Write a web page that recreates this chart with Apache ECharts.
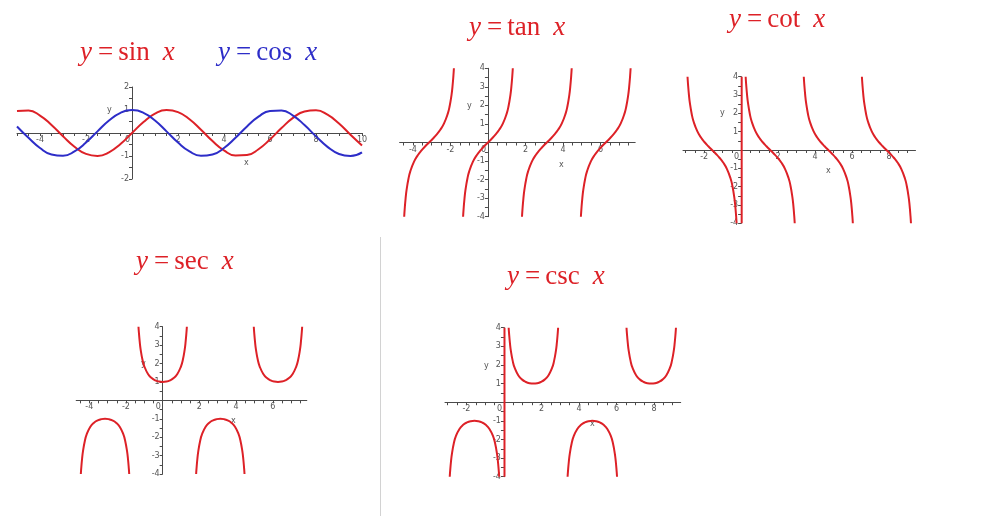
<!DOCTYPE html>
<html>
<head>
<meta charset="utf-8">
<script src="https://cdn.jsdelivr.net/npm/echarts@6/dist/echarts.min.js"></script>
<style>
html,body{margin:0;padding:0;background:#fff;}
#chart{width:1004px;height:529px;}
</style>
</head>
<body>
<div id="chart"></div>
<script>
// ---------- data ----------
// sine / cosine, sampled every 0.5 from -5 to 10
const trigX = [-5,-4.5,-4,-3.5,-3,-2.5,-2,-1.5,-1,-0.5,0,0.5,1,1.5,2,2.5,3,3.5,4,4.5,5,5.5,6,6.5,7,7.5,8,8.5,9,9.5,10];
const sinValues = [0.959,0.978,0.757,0.351,-0.141,-0.598,-0.909,-0.997,-0.841,-0.479,0,0.479,0.841,0.997,0.909,0.598,0.141,-0.351,-0.757,-0.978,-0.959,-0.706,-0.279,0.215,0.657,0.938,0.989,0.798,0.412,-0.075,-0.544];
const cosValues = [0.284,-0.211,-0.654,-0.936,-0.990,-0.801,-0.416,0.071,0.540,0.878,1,0.878,0.540,0.071,-0.416,-0.801,-0.990,-0.936,-0.654,-0.211,0.284,0.709,0.960,0.977,0.754,0.347,-0.146,-0.602,-0.911,-0.997,-0.839];

// tangent / cotangent branches: offsets from each branch centre and values
const tanOffsets = [-1.326,-1.3,-1.25,-1.2,-1.1,-1,-0.8,-0.6,-0.4,-0.2,0,0.2,0.4,0.6,0.8,1,1.1,1.2,1.25,1.3,1.326];
const tanValues = [-4,-3.602,-3.010,-2.572,-1.965,-1.557,-1.030,-0.684,-0.423,-0.203,0,0.203,0.423,0.684,1.030,1.557,1.965,2.572,3.010,3.602,4];
const tanCenters = [-3.1416,0,3.1416,6.2832];
const cotValues = [4,3.602,3.010,2.572,1.965,1.557,1.030,0.684,0.423,0.203,0,-0.203,-0.423,-0.684,-1.030,-1.557,-1.965,-2.572,-3.010,-3.602,-4];
const cotCenters = [-1.5708,1.5708,4.7124,7.854];
const cotJumpX = [0.03];

// secant / cosecant branches
const secOffsets = [-1.318,-1.3,-1.25,-1.2,-1.1,-1,-0.8,-0.6,-0.4,-0.2,0,0.2,0.4,0.6,0.8,1,1.1,1.2,1.25,1.3,1.318];
const upperBranch = [4,3.738,3.171,2.760,2.205,1.851,1.435,1.212,1.086,1.020,1,1.020,1.086,1.212,1.435,1.851,2.205,2.760,3.171,3.738,4];
const lowerBranch = [-4,-3.738,-3.171,-2.760,-2.205,-1.851,-1.435,-1.212,-1.086,-1.020,-1,-1.020,-1.086,-1.212,-1.435,-1.851,-2.205,-2.760,-3.171,-3.738,-4];
const secCenters = [-3.1416,0,3.1416,6.2832];
const secUpper = [false,true,false,true];
const cscCenters = [-1.5708,1.5708,4.7124,7.854];
const cscUpper = [false,true,false,true];
const cscJumpX = [0.03];

// tick labels
const sinXLabels = [-4,-2,0,2,4,6,8,10];
const sinYLabels = [-2,-1,1,2];
const tanXLabels = [-4,-2,0,2,4,6];
const cotXLabels = [-2,0,2,4,6,8];
const secXLabels = [-4,-2,0,2,4,6];
const cscXLabels = [-2,0,2,4,6,8];
const yLabels4 = [-4,-3,-2,-1,1,2,3,4];

// ---------- styling ----------
const RED = '#dd2127';
const BLUE = '#2d2dc8';
const AXIS = '#4a4a4a';
const LABEL = '#555';

const grids = [
  {left:17, top:87, width:345, height:92},          // sin/cos
  {left:399.6, top:68.3, width:235.6, height:148.4},// tan
  {left:683, top:76.7, width:232.5, height:146.6},  // cot
  {left:76.2, top:326.7, width:230.6, height:147.3},// sec
  {left:445, top:327.7, width:235.7, height:149}    // csc
];
const xRanges = [[-5,10],[-4.712,7.854],[-3.1416,9.4248],[-4.712,7.854],[-3.1416,9.4248]];
const yRanges = [[-2,2],[-4,4],[-4,4],[-4,4],[-4,4]];
const xLabelSets = [sinXLabels,tanXLabels,cotXLabels,secXLabels,cscXLabels];
const yLabelSets = [sinYLabels,yLabels4,yLabels4,yLabels4,yLabels4];

function tickList(min,max,step){
  const out=[]; let v=Math.ceil(min/step)*step;
  for(; v<=max+1e-9; v+=step) out.push(Math.round(v*100)/100);
  return out;
}

// put axes through the origin with offsets (labels follow the axis line)
const xAxes = grids.map((g,i)=>{
  const [y0,y1]=yRanges[i];
  const off = -g.height*(0-y0)/(y1-y0);
  return {
    type:'value', gridIndex:i, min:xRanges[i][0], max:xRanges[i][1], position:'bottom', offset:off,
    splitLine:{show:false},
    axisLine:{onZero:false, lineStyle:{color:AXIS, width:1}},
    axisTick:{show:true, customValues:tickList(xRanges[i][0],xRanges[i][1],0.5), length:3, lineStyle:{color:AXIS, width:1}},
    axisLabel:{customValues:xLabelSets[i], fontSize:8, color:LABEL, margin:3, fontFamily:'DejaVu Sans',
      formatter:(v)=> v===0 ? '{z|0}' : String(v),
      rich:{z:{padding:[0,9,0,0], fontSize:8, color:LABEL, fontFamily:'DejaVu Sans'}}}
  };
});
const yAxes = grids.map((g,i)=>{
  const [x0,x1]=xRanges[i];
  const off = -g.width*(0-x0)/(x1-x0);
  return {
    type:'value', gridIndex:i, min:yRanges[i][0], max:yRanges[i][1], position:'left', offset:off,
    splitLine:{show:false},
    axisLine:{onZero:false, lineStyle:{color:AXIS, width:1}},
    axisTick:{show:true, customValues:tickList(yRanges[i][0],yRanges[i][1],0.5), length:3, lineStyle:{color:AXIS, width:1}},
    axisLabel:{customValues:yLabelSets[i], fontSize:8, color:LABEL, margin:3, fontFamily:'DejaVu Sans'}
  };
});

function lineSeries(idx, data, color){
  return {type:'line', xAxisIndex:idx, yAxisIndex:idx, data, showSymbol:false, symbol:'none',
    smooth:0.5, lineStyle:{color, width:2}, itemStyle:{color}, silent:true, z:5};
}

const series = [];
series.push(lineSeries(0, trigX.map((x,k)=>[x,sinValues[k]]), RED));
series.push(lineSeries(0, trigX.map((x,k)=>[x,cosValues[k]]), BLUE));
tanCenters.forEach(c=>series.push(lineSeries(1, tanOffsets.map((t,k)=>[c+t,tanValues[k]]), RED)));
cotCenters.forEach(c=>series.push(lineSeries(2, tanOffsets.map((t,k)=>[c+t,cotValues[k]]), RED)));
cotJumpX.forEach(x=>series.push(lineSeries(2, [[x,-4],[x,4]], RED)));
secCenters.forEach((c,j)=>series.push(lineSeries(3, secOffsets.map((t,k)=>[c+t,(secUpper[j]?upperBranch:lowerBranch)[k]]), RED)));
cscCenters.forEach((c,j)=>series.push(lineSeries(4, secOffsets.map((t,k)=>[c+t,(cscUpper[j]?upperBranch:lowerBranch)[k]]), RED)));
cscJumpX.forEach(x=>series.push(lineSeries(4, [[x,-4],[x,4]], RED)));

// ---------- titles ----------
function title(left, middle, fn, color){
  const f = {fontFamily:'Liberation Serif', fontSize:27, fill:color};
  return {type:'text', left, top:middle-16, z:100, silent:true,
    style:{text:'{i|y}{e|=}{f|'+fn+'}{i|x}', fill:color, font:'27px "Liberation Serif"',
      rich:{
        i:Object.assign({fontStyle:'italic'}, f),
        e:Object.assign({padding:[0,5,0,6]}, f),
        f:Object.assign({padding:[0,13,0,0]}, f)
      }}};
}
function axisName(x, y, t){
  return {type:'text', left:x-3, top:y-5, silent:true,
    style:{text:t, fill:LABEL, font:'8px "DejaVu Sans"'}};
}

const graphics = [
  title(80, 55, 'sin', RED),
  title(218, 55, 'cos', BLUE),
  title(469, 30, 'tan', RED),
  title(729, 22, 'cot', RED),
  title(136, 264, 'sec', RED),
  title(507, 279, 'csc', RED),
  axisName(110,111,'y'), axisName(247,164,'x'),
  axisName(470,107,'y'), axisName(562,166,'x'),
  axisName(723,114,'y'), axisName(829,172,'x'),
  axisName(144,365,'y'), axisName(234,422,'x'),
  axisName(487,367,'y'), axisName(593,425,'x'),
  {type:'line', silent:true, shape:{x1:380.5,y1:237,x2:380.5,y2:516}, style:{stroke:'#d2d2d2', lineWidth:1}}
];

const chart = echarts.init(document.getElementById('chart'), null, {renderer:'canvas'});
chart.setOption({
  backgroundColor:'#ffffff',
  animation:false,
  grid:grids.map(g=>Object.assign({containLabel:false}, g)),
  xAxis:xAxes,
  yAxis:yAxes,
  series,
  graphic:graphics
});
</script>
</body>
</html>
